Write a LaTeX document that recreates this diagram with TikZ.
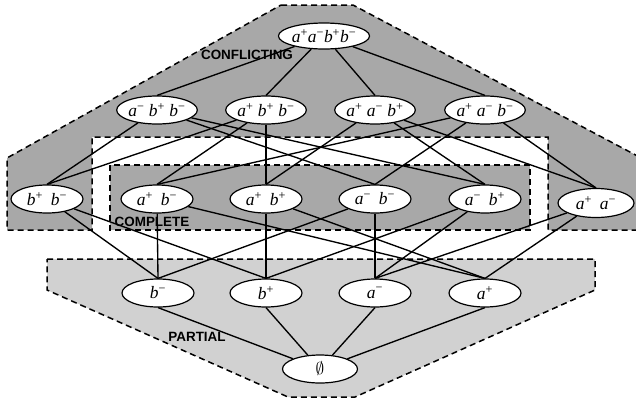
\documentclass[tikz,border=0pt]{standalone}
\usepackage{fontspec}
\setmainfont{Liberation Serif}
\newfontfamily\regionfont{Liberation Sans}
\usetikzlibrary{shapes.geometric}
\definecolor{conflictfill}{gray}{0.66}
\definecolor{partialfill}{gray}{0.82}
% a literal: italic letter with its sign raised
\newcommand{\lit}[2]{\textit{#1}\textsuperscript{#2}}
\pgfdeclarelayer{regions}
\pgfdeclarelayer{links}
\pgfsetlayers{regions,links,main}

\begin{document}
\begin{tikzpicture}[x=1bp,y=-1bp,
  state/.style={ellipse, draw, line width=1.2bp, fill=white,
    minimum width=72bp, minimum height=28bp, inner sep=0pt,
    font=\fontsize{17.5}{17.5}\selectfont},
  link/.style={line width=1.35bp},
  region/.style={dash pattern=on 6bp off 4bp, line width=1.5bp},
  regionlabel/.style={font=\regionfont\bfseries\fontsize{13.5}{13.5}\selectfont}]
\useasboundingbox (0,0) rectangle (636,398);

% ---- shaded regions ----
\begin{pgfonlayer}{regions}
  % conflicting sets, with the notch left open for the complete ones
  \draw[region, fill=conflictfill]
    (281,5) -- (353,5) -- (645,160) -- (645,230) -- (548,230) -- (548,137)
    -- (92,137) -- (92,230) -- (7,230) -- (7,158) -- cycle;
  % complete sets
  \draw[region, fill=conflictfill] (110,165) rectangle (530,230);
  % partial sets
  \draw[region, fill=partialfill]
    (47,259) -- (595,259) -- (595,290) -- (355,397) -- (288,397)
    -- (47,290) -- cycle;
\end{pgfonlayer}

% ---- lattice nodes ----
\node[state, minimum width=76bp, minimum height=26bp] (top) at (324,36)
  {\lit{a}{+}\lit{a}{−}\lit{b}{+}\lit{b}{−}};

\node[state] (ambpbm) at (157,110) {\lit{a}{−} \lit{b}{+} \lit{b}{−}};
\node[state] (apbpbm) at (266,110) {\lit{a}{+} \lit{b}{+} \lit{b}{−}};
\node[state] (apambp) at (375,110) {\lit{a}{+} \lit{a}{−} \lit{b}{+}};
\node[state] (apambm) at (485,110) {\lit{a}{+} \lit{a}{−} \lit{b}{−}};

\node[state] (bpbm) at (47,199)  {\lit{b}{+}\hspace{0.45em}\lit{b}{−}};
\node[state] (apbm) at (157,199) {\lit{a}{+}\hspace{0.45em}\lit{b}{−}};
\node[state] (apbp) at (266,199) {\lit{a}{+}\hspace{0.45em}\lit{b}{+}};
\node[state] (ambm) at (375,199) {\lit{a}{−}\hspace{0.45em}\lit{b}{−}};
\node[state] (ambp) at (485,199) {\lit{a}{−}\hspace{0.45em}\lit{b}{+}};
\node[state, minimum width=76bp, minimum height=29bp] (apam) at (596,203)
  {\lit{a}{+}\hspace{0.45em}\lit{a}{−}};

\node[state] (bm) at (158,293) {\lit{b}{−}};
\node[state] (bp) at (266,293) {\lit{b}{+}};
\node[state] (am) at (375,293) {\lit{a}{−}};
\node[state] (ap) at (485,293) {\lit{a}{+}};

\node[state, minimum width=75bp] (empty) at (320,369) {$\emptyset$};

% ---- region labels ----
\node[regionlabel] (lconf) at (247,55)  {CONFLICTING};
\node[regionlabel] (lcomp) at (152,222) {COMPLETE};
\node[regionlabel] (lpart) at (197,337) {PARTIAL};

% ---- lattice connectors ----
\begin{pgfonlayer}{links}
  \foreach \n in {ambpbm,apbpbm,apambp,apambm}
    \draw[link] (top) -- (\n.north);

  \foreach \u/\l in {ambpbm/bpbm, ambpbm/ambm, ambpbm/ambp,
                     apbpbm/bpbm, apbpbm/apbp, apbpbm/apbm,
                     apambp/apam, apambp/apbp, apambp/ambp,
                     apambm/apam, apambm/apbm, apambm/ambm}
    \draw[link] (\u) -- (\l.north);

  \foreach \u/\l in {bpbm/bm, bpbm/bp, apbm/bm, apbm/ap,
                     apbp/bp, apbp/ap, ambm/am, ambm/bm,
                     ambp/am, ambp/bp, apam/ap, apam/am}
    \draw[link] (\u) -- (\l.north);

  \foreach \u in {bm,bp,am,ap}
    \draw[link] (\u.south) -- (empty);
\end{pgfonlayer}
\end{tikzpicture}
\end{document}
